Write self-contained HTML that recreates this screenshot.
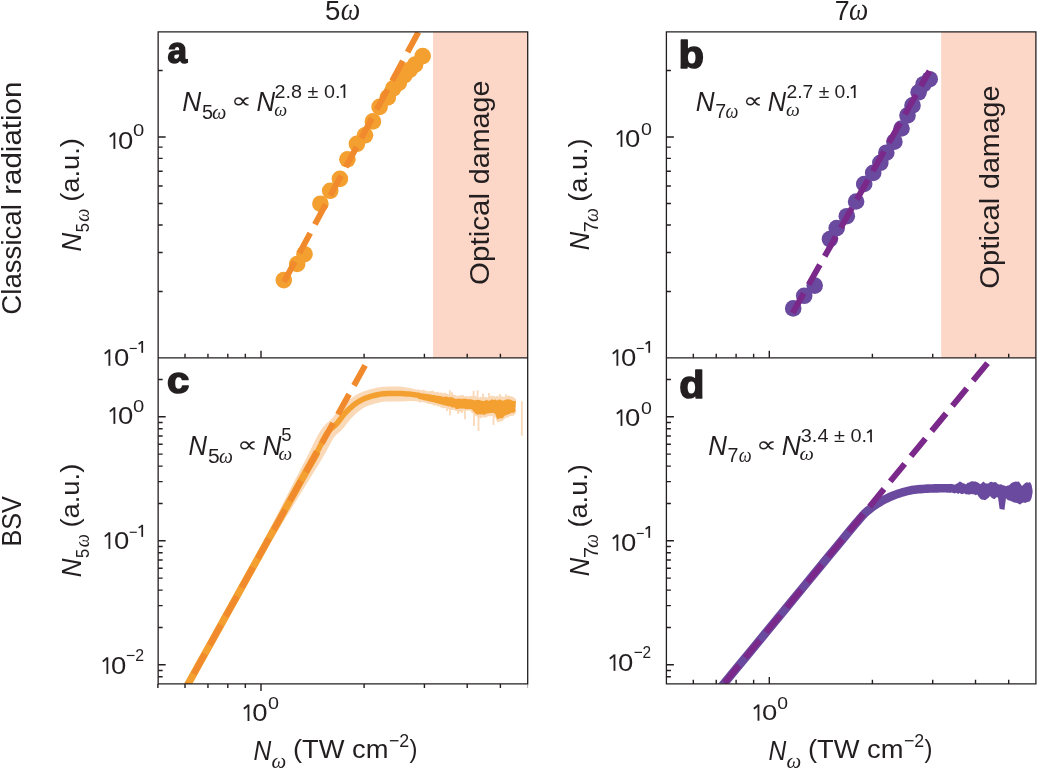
<!DOCTYPE html>
<html><head><meta charset="utf-8"><title>Figure</title>
<style>html,body{margin:0;padding:0;background:#fff;width:1037px;height:769px;overflow:hidden}svg{display:block;will-change:transform}body{font-family:"Liberation Sans",sans-serif}</style>
</head><body>
<svg width="1037" height="769" viewBox="0 0 1037 769">
<defs><clipPath id="ca"><rect x="158.15" y="31.85" width="369.6" height="326.0"/></clipPath>
<clipPath id="cb"><rect x="666.4" y="31.85" width="369.5" height="326.0"/></clipPath>
<clipPath id="cc"><rect x="158.15" y="357.85" width="369.6" height="326.0"/></clipPath>
<clipPath id="cd"><rect x="666.4" y="357.85" width="369.5" height="326.0"/></clipPath></defs>
<rect width="1037" height="769" fill="#fff"/>
<rect x="433.1" y="31.85" width="94.6" height="326.0" fill="#fcd6c6"/><rect x="941.2" y="31.85" width="94.7" height="326.0" fill="#fcd6c6"/><path d="M158.15,291.47h4.5M158.15,252.56h4.5M158.15,224.94h4.5M158.15,203.53h4.5M158.15,186.03h4.5M158.15,171.23h4.5M158.15,158.42h4.5M158.15,147.11h4.5M158.15,137.00h7.5M158.15,70.47h4.5M158.15,676.82h4.5M158.15,670.47h4.5M158.15,664.80h7.5M158.15,627.47h4.5M158.15,605.64h4.5M158.15,590.14h4.5M158.15,578.13h4.5M158.15,568.31h4.5M158.15,560.01h4.5M158.15,552.82h4.5M158.15,546.47h4.5M158.15,540.80h7.5M158.15,503.47h4.5M158.15,481.64h4.5M158.15,466.14h4.5M158.15,454.13h4.5M158.15,444.31h4.5M158.15,436.01h4.5M158.15,428.82h4.5M158.15,422.47h4.5M158.15,416.80h7.5M158.15,379.47h4.5M666.40,291.47h4.5M666.40,252.56h4.5M666.40,224.94h4.5M666.40,203.53h4.5M666.40,186.03h4.5M666.40,171.23h4.5M666.40,158.42h4.5M666.40,147.11h4.5M666.40,137.00h7.5M666.40,70.47h4.5M666.40,676.82h4.5M666.40,670.47h4.5M666.40,664.80h7.5M666.40,627.47h4.5M666.40,605.64h4.5M666.40,590.14h4.5M666.40,578.13h4.5M666.40,568.31h4.5M666.40,560.01h4.5M666.40,552.82h4.5M666.40,546.47h4.5M666.40,540.80h7.5M666.40,503.47h4.5M666.40,481.64h4.5M666.40,466.14h4.5M666.40,454.13h4.5M666.40,444.31h4.5M666.40,436.01h4.5M666.40,428.82h4.5M666.40,422.47h4.5M666.40,416.80h7.5M666.40,379.47h4.5M157.90,683.90v4.2M185.02,357.85v-4.2M185.02,683.90v4.2M207.95,357.85v-4.2M207.95,683.90v4.2M227.81,357.85v-4.2M227.81,683.90v4.2M245.33,357.85v-4.2M245.33,683.90v4.2M261.00,357.85v-7.0M261.00,683.90v7.0M364.10,357.85v-4.2M364.10,683.90v4.2M424.41,357.85v-4.2M424.41,683.90v4.2M467.21,357.85v-4.2M467.21,683.90v4.2M500.40,357.85v-4.2M500.40,683.90v4.2M693.32,357.85v-4.2M693.32,683.90v-4.2M716.25,357.85v-4.2M716.25,683.90v-4.2M736.11,357.85v-4.2M736.11,683.90v-4.2M753.63,357.85v-4.2M753.63,683.90v-4.2M769.30,357.85v-7.0M769.30,683.90v-7.0M872.40,357.85v-4.2M872.40,683.90v-4.2M932.71,357.85v-4.2M932.71,683.90v-4.2M975.51,357.85v-4.2M975.51,683.90v-4.2M1008.70,357.85v-4.2M1008.70,683.90v-4.2" stroke="#231f20" stroke-width="1.4" fill="none"/><path d="M527.6,683.9v4.2" stroke="#231f20" stroke-width="1" opacity="0.35" fill="none"/>
<g clip-path="url(#ca)"><g fill="#f3a030"><circle cx="283.8" cy="280.1" r="8.3"/><circle cx="297.2" cy="264.0" r="8.3"/><circle cx="304.5" cy="254.2" r="8.3"/><circle cx="320.4" cy="203.7" r="8.3"/><circle cx="330.2" cy="190.8" r="8.3"/><circle cx="339.9" cy="178.9" r="8.3"/><circle cx="347.4" cy="159.3" r="8.3"/><circle cx="356.9" cy="143.8" r="8.3"/><circle cx="365.0" cy="135.3" r="8.3"/><circle cx="372.9" cy="121.4" r="8.3"/><circle cx="379.6" cy="106.9" r="8.3"/><circle cx="387.8" cy="97.4" r="8.3"/><circle cx="393.3" cy="88.3" r="8.3"/><circle cx="398.8" cy="82.8" r="8.3"/><circle cx="404.2" cy="75.5" r="8.3"/><circle cx="409.7" cy="70.0" r="8.3"/><circle cx="415.1" cy="64.6" r="8.3"/><circle cx="422.7" cy="56.1" r="8.3"/></g><path d="M284.0,281.8L422.70,24.08" stroke="#f08a2c" stroke-width="6" stroke-dasharray="22.72 9.88" fill="none"/></g><g clip-path="url(#cb)"><g fill="#6a4a9e"><circle cx="793.2" cy="308.4" r="8.3"/><circle cx="804.2" cy="295.8" r="8.3"/><circle cx="814.7" cy="285.6" r="8.3"/><circle cx="829.9" cy="239.1" r="8.3"/><circle cx="836.7" cy="228.1" r="8.3"/><circle cx="846.8" cy="216.2" r="8.3"/><circle cx="856.1" cy="201.5" r="8.3"/><circle cx="864.2" cy="184.0" r="8.3"/><circle cx="873.2" cy="172.9" r="8.3"/><circle cx="880.3" cy="162.8" r="8.3"/><circle cx="886.3" cy="152.7" r="8.3"/><circle cx="894.4" cy="141.7" r="8.3"/><circle cx="901.5" cy="128.5" r="8.3"/><circle cx="907.5" cy="115.4" r="8.3"/><circle cx="912.5" cy="105.4" r="8.3"/><circle cx="918.6" cy="92.3" r="8.3"/><circle cx="923.6" cy="84.2" r="8.3"/><circle cx="929.7" cy="79.2" r="8.3"/></g><path d="M792.6,313.0L929.50,71.00" stroke="#7a298a" stroke-width="6" stroke-dasharray="22.72 9.88" fill="none"/></g><g clip-path="url(#cc)"><path d="M176.85,696.85 L184.70,682.73 L195.74,662.85 L208.73,639.48 L222.41,614.85 L235.53,591.23 L246.85,570.85 L256.75,553.04 L266.30,535.84 L274.79,519.37 L282.53,504.28 L289.36,490.98 L295.07,479.85 L299.37,471.53 L302.34,465.82 L304.39,461.91 L305.93,458.97 L307.38,456.19 L309.15,452.72 L311.16,448.62 L313.11,444.50 L315.10,440.46 L317.11,436.58 L319.12,432.93 L321.21,429.57 L323.38,426.68 L325.54,424.34 L327.52,422.54 L329.17,421.18 L330.43,420.09 L331.52,419.00 L332.65,417.63 L333.85,416.07 L335.10,414.38 L336.41,412.60 L337.84,410.75 L339.38,408.94 L340.96,407.25 L342.53,405.68 L344.10,404.19 L345.63,402.80 L347.12,401.51 L348.53,400.31 L349.88,399.21 L351.20,398.19 L352.51,397.24 L353.83,396.35 L355.18,395.50 L356.56,394.70 L357.93,393.95 L359.31,393.24 L360.77,392.55 L362.33,391.89 L364.02,391.25 L365.86,390.64 L367.88,390.01 L370.09,389.37 L372.46,388.74 L374.93,388.14 L377.45,387.61 L379.95,387.18 L382.36,386.87 L384.71,386.65 L387.02,386.51 L389.31,386.44 L391.63,386.41 L394.02,386.40 L396.57,386.42 L399.26,386.48 L402.01,386.75 L404.78,387.16 L407.51,387.61 L410.18,388.09 L412.81,388.63 L415.37,389.24 L417.83,389.87 L420.18,390.50 L422.46,390.93 L424.65,391.24 L426.79,391.50 L428.92,391.73 L431.04,391.94 L433.15,392.15 L435.27,392.38 L437.37,392.65 L439.41,392.94 L441.34,393.26 L443.21,393.58 L445.05,393.91 L446.90,394.24 L448.83,394.57 L450.87,394.91 L453.02,395.25 L455.21,395.61 L457.40,395.97 L459.56,396.32 L461.65,396.67 L463.64,397.03 L465.53,397.39 L467.33,397.73 L469.09,398.06 L470.86,398.37 L472.70,398.65 L474.66,398.90 L476.74,399.14 L478.89,399.36 L481.09,399.57 L483.30,399.80 L485.49,400.03 L487.63,400.31 L489.70,400.60 L491.70,400.89 L493.62,401.15 L495.49,401.36 L497.31,401.51 L499.22,401.59 L501.25,401.63 L503.31,401.63 L505.31,401.59 L507.19,401.55 L508.83,401.50 L510.21,401.45 L511.44,401.37 L512.54,401.27 L513.51,401.17 L514.36,401.08 L515.03,401.02 L516.06,411.97 L515.45,412.03 L514.63,412.12 L513.55,412.22 L512.26,412.33 L510.79,412.43 L509.20,412.50 L507.47,412.54 L505.53,412.59 L503.40,412.62 L501.17,412.63 L498.88,412.59 L496.62,412.49 L494.41,412.31 L492.26,412.06 L490.18,411.78 L488.15,411.49 L486.17,411.21 L484.20,410.96 L482.15,410.74 L480.00,410.52 L477.79,410.30 L475.56,410.07 L473.34,409.82 L471.16,409.54 L469.09,409.22 L467.14,408.89 L465.28,408.54 L463.46,408.19 L461.66,407.85 L459.78,407.51 L457.76,407.17 L455.63,406.82 L453.45,406.47 L451.25,406.11 L449.10,405.76 L447.01,405.42 L445.02,405.08 L443.12,404.74 L441.30,404.42 L439.52,404.11 L437.73,403.82 L435.89,403.55 L433.98,403.30 L432.01,403.09 L429.95,402.88 L427.80,402.67 L425.56,402.43 L423.22,402.15 L420.82,401.81 L418.40,401.48 L415.98,401.33 L413.59,401.20 L411.24,401.12 L408.92,401.11 L406.50,401.16 L403.95,401.26 L401.37,401.40 L398.81,401.47 L396.34,401.42 L393.98,401.40 L391.75,401.41 L389.66,401.43 L387.70,401.50 L385.84,401.61 L384.02,401.77 L382.20,402.01 L380.29,402.34 L378.25,402.77 L376.16,403.28 L374.10,403.83 L372.16,404.39 L370.45,404.92 L369.04,405.39 L367.89,405.82 L366.89,406.25 L365.95,406.69 L364.98,407.19 L363.93,407.77 L362.92,408.35 L362.01,408.93 L361.12,409.52 L360.20,410.19 L359.21,410.96 L358.11,411.86 L356.88,412.89 L355.60,414.01 L354.30,415.19 L353.00,416.42 L351.73,417.69 L350.57,418.93 L349.49,420.19 L348.38,421.63 L347.17,423.28 L345.84,425.08 L344.36,427.01 L342.62,429.08 L340.68,431.05 L338.85,432.63 L337.35,433.87 L336.11,434.99 L334.93,436.24 L333.62,437.99 L332.08,440.49 L330.34,443.64 L328.45,447.29 L326.38,451.25 L324.07,455.36 L321.64,459.51 L319.53,462.97 L317.83,465.71 L316.06,468.54 L313.73,472.25 L310.35,477.68 L305.45,485.64 L298.91,496.29 L291.10,509.04 L282.23,523.50 L272.59,539.34 L263.04,556.53 L253.15,574.35 L241.83,594.72 L228.70,618.35 L215.02,642.97 L202.04,666.35 L190.99,686.22 L183.15,700.35Z" fill="#fad9b8"/><path d="M418.0,388.4 L419.8,390.2 L421.6,390.2 L423.4,389.4 L425.2,390.6 L427.0,391.3 L428.8,391.3 L430.6,391.3 L432.4,390.4 L434.2,391.5 L436.0,392.5 L437.8,391.4 L439.6,392.9 L441.4,392.2 L443.2,393.6 L445.0,392.5 L446.8,393.7 L448.6,394.7 L450.4,394.6 L452.2,394.8 L454.0,394.4 L455.8,395.5 L457.6,396.0 L459.4,395.3 L461.2,395.3 L463.0,394.8 L464.8,396.6 L466.6,395.8 L468.4,396.4 L470.2,395.7 L472.0,396.3 L473.8,395.2 L475.6,396.0 L477.4,397.2 L479.2,397.6 L481.0,396.4 L482.8,397.9 L484.6,397.1 L486.4,397.3 L488.2,397.5 L490.0,396.0 L491.8,395.8 L493.6,395.7 L495.4,396.7 L497.2,395.7 L499.0,396.8 L500.8,396.1 L502.6,396.7 L504.4,396.6 L506.2,397.3 L508.0,395.2 L509.8,396.0 L511.6,396.3 L513.4,397.1 L515.2,398.5 L516.0,398.9 L516.0,412.7 L515.2,414.0 L513.4,415.8 L511.6,415.9 L509.8,416.1 L508.0,417.7 L506.2,417.5 L504.4,418.9 L502.6,421.1 L500.8,421.5 L499.0,422.0 L497.2,422.2 L495.4,417.5 L493.6,416.5 L491.8,415.7 L490.0,416.4 L488.2,416.0 L486.4,417.5 L484.6,417.4 L482.8,417.3 L481.0,418.0 L479.2,418.2 L477.4,416.7 L475.6,415.9 L473.8,413.7 L472.0,413.1 L470.2,410.6 L468.4,410.9 L466.6,410.2 L464.8,410.8 L463.0,411.0 L461.2,411.4 L459.4,412.5 L457.6,410.7 L455.8,411.2 L454.0,409.8 L452.2,410.3 L450.4,409.5 L448.6,409.6 L446.8,407.5 L445.0,408.1 L443.2,408.3 L441.4,407.9 L439.6,406.0 L437.8,406.7 L436.0,404.9 L434.2,405.9 L432.4,404.6 L430.6,404.1 L428.8,403.9 L427.0,403.5 L425.2,402.1 L423.4,402.2 L421.6,401.6 L419.8,402.7 L418.0,401.6Z" fill="#fad9b8"/><path d="M450,390.2V398M452,392.2V398M473.5,390.7V400M477.5,390.2V400M483,393.5V400M489,393.0V400M500,394V400M506,394.3V400M450,405V415.2M458,407V414M465,407V419.3M474,409V426M478.5,412V431M493.5,412V425M447,404V411M462,407V413M521.8,401.3V435.7" stroke="#fad9b8" stroke-width="1.8" fill="none"/><path d="M180.00,698.60 L187.85,684.48 L198.89,664.60 L211.88,641.23 L225.56,616.60 L238.68,592.97 L250.00,572.60 L259.90,554.78 L269.44,537.59 L278.44,521.39 L286.67,506.58 L293.92,493.52 L300.00,482.60 L304.56,474.44 L307.70,468.85 L309.88,465.03 L311.52,462.14 L313.08,459.37 L315.00,455.90 L317.20,451.77 L319.31,447.65 L321.33,443.64 L323.28,439.87 L325.17,436.45 L327.00,433.50 L328.77,431.14 L330.47,429.31 L332.11,427.83 L333.69,426.52 L335.21,425.20 L336.70,423.70 L338.12,422.01 L339.45,420.27 L340.73,418.53 L342.00,416.81 L343.28,415.16 L344.60,413.60 L345.99,412.12 L347.41,410.69 L348.86,409.33 L350.29,408.03 L351.68,406.82 L353.00,405.70 L354.24,404.69 L355.40,403.79 L356.52,402.97 L357.64,402.22 L358.79,401.50 L360.00,400.80 L361.22,400.13 L362.41,399.52 L363.62,398.94 L364.93,398.39 L366.37,397.85 L368.00,397.30 L369.88,396.72 L371.96,396.12 L374.19,395.52 L376.48,394.97 L378.78,394.49 L381.00,394.10 L383.14,393.82 L385.24,393.63 L387.34,393.51 L389.47,393.44 L391.68,393.41 L394.00,393.40 L396.46,393.42 L399.05,393.48 L401.71,393.57 L404.39,393.71 L407.04,393.89 L409.60,394.10 L412.09,394.38 L414.55,394.72 L416.98,395.11 L419.37,395.50" stroke="#f3a030" stroke-width="5.5" fill="none" stroke-linejoin="round"/><path d="M180.00,698.60 L187.85,684.48 L198.89,664.60 L211.88,641.23 L225.56,616.60 L238.68,592.97 L250.00,572.60 L259.90,554.78 L269.44,537.59 L278.44,521.39 L286.67,506.58 L293.92,493.52 L300.00,482.60 L304.56,474.44 L307.70,468.85 L309.88,465.03 L311.52,462.14 L313.08,459.37 L315.00,455.90 L317.20,451.77" stroke="#f3a030" stroke-width="7.2" fill="none" stroke-linejoin="round"/><path d="M418.0,392.6 L419.8,392.9 L421.6,393.2 L423.4,393.5 L425.2,393.7 L427.0,394.0 L428.8,394.3 L430.6,394.6 L432.4,394.9 L434.2,395.1 L436.0,395.4 L437.8,395.7 L439.6,395.9 L441.4,396.2 L443.2,397.0 L445.0,396.8 L446.8,396.6 L448.6,397.4 L450.4,397.1 L452.2,397.3 L454.0,398.3 L455.8,398.9 L457.6,398.8 L459.4,398.5 L461.2,399.1 L463.0,398.7 L464.8,398.6 L466.6,399.1 L468.4,399.3 L470.2,399.3 L472.0,399.4 L473.8,400.3 L475.6,400.3 L477.4,399.8 L479.2,399.9 L481.0,400.6 L482.8,400.9 L484.6,401.1 L486.4,399.8 L488.2,400.7 L490.0,400.5 L491.8,399.2 L493.6,400.1 L495.4,399.4 L497.2,400.5 L499.0,399.6 L500.8,399.8 L502.6,400.8 L504.4,400.3 L506.2,399.6 L508.0,399.3 L509.8,399.5 L511.6,399.9 L513.4,401.1 L515.2,400.9 L516.0,401.2 L516.0,401.5 L515.0,410.0 L516.0,409.8 L515.2,411.6 L513.4,413.1 L511.6,412.8 L509.8,413.7 L508.0,414.6 L506.2,415.1 L504.4,416.1 L502.6,418.3 L500.8,418.2 L499.0,418.5 L497.2,419.4 L495.4,414.3 L493.6,412.8 L491.8,413.0 L490.0,412.9 L488.2,413.4 L486.4,413.5 L484.6,415.0 L482.8,414.3 L481.0,414.4 L479.2,414.2 L477.4,414.7 L475.6,413.6 L473.8,411.7 L472.0,409.5 L470.2,409.1 L468.4,408.9 L466.6,409.2 L464.8,408.7 L463.0,408.6 L461.2,408.6 L459.4,408.5 L457.6,409.0 L455.8,409.0 L454.0,407.0 L452.2,407.7 L450.4,406.3 L448.6,406.6 L446.8,405.8 L445.0,405.5 L443.2,404.9 L441.4,404.6 L439.6,404.1 L437.8,403.6 L436.0,403.1 L434.2,402.6 L432.4,402.1 L430.6,401.7 L428.8,401.2 L427.0,400.8 L425.2,400.4 L423.4,400.0 L421.6,399.6 L419.8,399.2 L418.0,398.8Z" fill="#f3a030"/><path d="M188.0,684.2L373.67,350" stroke="#f08a2c" stroke-width="6" stroke-dasharray="23 10" stroke-dashoffset="21.3" fill="none"/></g><g clip-path="url(#cd)"><path d="M700.00,712.76 L708.88,701.96 L721.30,686.86 L735.94,669.06 L751.48,650.16 L766.61,631.76 L780.00,615.48 L792.31,600.50 L804.74,585.38 L816.75,570.77 L827.81,557.31 L837.41,545.65 L845.00,536.44 L850.10,530.26 L853.04,526.71 L854.51,524.96 L855.20,524.17 L855.80,523.52 L857.00,522.15 L858.62,520.25 L860.07,518.52 L861.43,516.92 L862.78,515.40 L864.21,513.91 L865.80,512.40 L867.57,510.86 L869.46,509.33 L871.43,507.83 L873.44,506.38 L875.44,505.00 L877.40,503.70 L879.32,502.49 L881.24,501.35 L883.15,500.28 L885.06,499.27 L886.98,498.31 L888.90,497.40 L890.83,496.54 L892.76,495.74 L894.69,494.99 L896.63,494.29 L898.57,493.62 L900.50,493.00 L902.42,492.41 L904.32,491.86 L906.22,491.36 L908.14,490.89 L910.09,490.47 L912.10,490.10 L914.15,489.78 L916.23,489.52 L918.34,489.30 L920.50,489.11 L922.71,488.95 L925.00,488.80 L927.38,488.66 L929.84,488.55 L932.37,488.46 L934.92,488.39 L937.48,488.33 L940.00,488.30 L942.67,488.30 L945.56,488.32 L948.44,488.37 L951.11,488.42" stroke="#6a4a9e" stroke-width="8.6" fill="none" stroke-linejoin="round"/><path d="M950.0,483.7 L951.6,484.1 L953.2,484.3 L954.8,484.7 L956.4,483.7 L958.0,483.0 L959.6,481.6 L961.2,481.9 L962.8,483.2 L964.4,483.5 L966.0,484.5 L967.6,482.7 L969.2,482.4 L970.8,481.4 L972.4,481.3 L974.0,481.5 L975.6,481.4 L977.2,482.3 L978.8,483.1 L980.4,484.2 L982.0,482.7 L983.6,481.5 L985.2,483.3 L986.8,483.6 L988.4,483.5 L990.0,482.1 L991.6,481.7 L993.2,482.5 L994.8,482.0 L996.4,482.6 L998.0,484.2 L999.6,484.6 L1001.2,484.2 L1002.8,485.3 L1004.4,485.4 L1006.0,486.3 L1007.6,485.6 L1009.2,485.2 L1010.8,483.6 L1012.4,482.6 L1014.0,482.1 L1015.6,481.5 L1017.2,481.7 L1018.8,481.6 L1020.4,483.7 L1022.0,486.0 L1023.6,484.4 L1025.2,483.1 L1026.8,482.2 L1028.4,482.7 L1030.0,482.1 L1031.6,485.0 L1032.6,490.4 L1032.6,492.4 L1031.6,498.0 L1030.0,501.3 L1028.4,501.8 L1026.8,502.2 L1025.2,503.0 L1023.6,502.4 L1022.0,503.0 L1020.4,504.5 L1018.8,504.0 L1017.2,503.1 L1015.6,502.8 L1014.0,502.4 L1012.4,501.8 L1010.8,501.1 L1009.2,500.6 L1007.6,500.0 L1006.0,498.3 L1004.4,510.0 L1002.8,509.6 L1001.2,509.3 L999.6,509.0 L998.0,497.5 L996.4,497.2 L994.8,499.0 L993.2,498.8 L991.6,497.8 L990.0,496.0 L988.4,498.0 L986.8,499.0 L985.2,500.2 L983.6,499.8 L982.0,499.8 L980.4,498.8 L978.8,497.1 L977.2,494.6 L975.6,495.2 L974.0,494.3 L972.4,494.2 L970.8,494.1 L969.2,494.7 L967.6,494.2 L966.0,494.5 L964.4,493.3 L962.8,494.1 L961.2,493.9 L959.6,493.0 L958.0,494.0 L956.4,492.8 L954.8,493.5 L953.2,493.0 L951.6,492.5 L950.0,492.5Z" fill="#6a4a9e"/><path d="M710.49,700L998.32,350" stroke="#7a298a" stroke-width="6" stroke-dasharray="22.72 9.88" stroke-dashoffset="10.36" fill="none"/></g>
<path d="M158.15,31.85H527.7V683.9H158.15Z M158.15,357.85H527.7 M666.4,31.85H1035.9V683.9H666.4Z M666.4,357.85H1035.9" stroke="#231f20" stroke-width="1.3" fill="none"/>
<g fill="#231f20">
<text transform="translate(324.99,19.92) scale(1.0032,1)" font-family="Liberation Sans" font-size="27.57" >5</text>
<text transform="translate(340.87,19.89) scale(0.8838,1)" font-family="Liberation Serif" font-style="italic" font-size="31.25" >ω</text>
<text transform="translate(834.76,20.28) scale(0.9570,1)" font-family="Liberation Sans" font-size="27.94" >7</text>
<text transform="translate(848.88,19.99) scale(0.8679,1)" font-family="Liberation Serif" font-style="italic" font-size="31.46" >ω</text>
<text transform="translate(21.12,314.68) rotate(-90) scale(1.0024,1)" font-family="Liberation Sans" font-size="27.57" >Classical</text>
<text transform="translate(21.12,194.76) rotate(-90) scale(1.0696,1)" font-family="Liberation Sans" font-size="27.57" >radiation</text>
<text transform="translate(20.73,546.62) rotate(-90) scale(0.9390,1)" font-family="Liberation Sans" font-size="26.90" >BSV</text>
<text transform="translate(167.39,62.58) scale(0.9513,1)" font-family="Liberation Sans" font-weight="bold" font-size="37.09" stroke="#231f20" stroke-width="1.5" stroke-linejoin="round">a</text>
<text transform="translate(678.62,67.85) scale(1.0898,1)" font-family="Liberation Sans" font-weight="bold" font-size="38.36" stroke="#231f20" stroke-width="1.5" stroke-linejoin="round">b</text>
<text transform="translate(166.94,393.49) scale(1.1056,1)" font-family="Liberation Sans" font-weight="bold" font-size="36.36" stroke="#231f20" stroke-width="1.5" stroke-linejoin="round">c</text>
<text transform="translate(679.20,397.65) scale(1.0780,1)" font-family="Liberation Sans" font-weight="bold" font-size="38.22" stroke="#231f20" stroke-width="1.5" stroke-linejoin="round">d</text>
<text transform="translate(80.90,251.57) rotate(-90) scale(0.9368,1)" font-family="Liberation Sans" font-style="italic" font-size="27.54" >N</text>
<text transform="translate(89.11,232.26) rotate(-90) scale(0.8558,1)" font-family="Liberation Sans" font-size="19.14" >5</text>
<text transform="translate(89.08,221.66) rotate(-90) scale(0.8490,1)" font-family="Liberation Serif" font-style="italic" font-size="21.88" >ω</text>
<text transform="translate(79.24,201.84) rotate(-90) scale(1.0317,1)" font-family="Liberation Sans" font-size="26.49" >(a.u.)</text>
<text transform="translate(80.90,577.27) rotate(-90) scale(0.9368,1)" font-family="Liberation Sans" font-style="italic" font-size="27.54" >N</text>
<text transform="translate(89.11,557.96) rotate(-90) scale(0.8558,1)" font-family="Liberation Sans" font-size="19.14" >5</text>
<text transform="translate(89.08,547.36) rotate(-90) scale(0.8490,1)" font-family="Liberation Serif" font-style="italic" font-size="21.88" >ω</text>
<text transform="translate(79.24,527.54) rotate(-90) scale(1.0317,1)" font-family="Liberation Sans" font-size="26.49" >(a.u.)</text>
<text transform="translate(588.90,250.37) rotate(-90) scale(0.9215,1)" font-family="Liberation Sans" font-style="italic" font-size="27.68" >N</text>
<text transform="translate(598.10,232.28) rotate(-90) scale(1.0003,1)" font-family="Liberation Sans" font-size="19.56" >7</text>
<text transform="translate(598.09,222.10) rotate(-90) scale(0.9337,1)" font-family="Liberation Serif" font-style="italic" font-size="21.25" >ω</text>
<text transform="translate(587.21,201.73) rotate(-90) scale(1.0208,1)" font-family="Liberation Sans" font-size="26.60" >(a.u.)</text>
<text transform="translate(588.90,576.17) rotate(-90) scale(0.9215,1)" font-family="Liberation Sans" font-style="italic" font-size="27.68" >N</text>
<text transform="translate(598.10,558.08) rotate(-90) scale(1.0003,1)" font-family="Liberation Sans" font-size="19.56" >7</text>
<text transform="translate(598.09,547.90) rotate(-90) scale(0.9337,1)" font-family="Liberation Serif" font-style="italic" font-size="21.25" >ω</text>
<text transform="translate(587.21,527.53) rotate(-90) scale(1.0208,1)" font-family="Liberation Sans" font-size="26.60" >(a.u.)</text>
<text transform="translate(118.00,148.67) scale(1.1905,1)" font-family="Liberation Sans" font-size="23.10" >0</text>
<text transform="translate(133.09,135.73) scale(1.2057,1)" font-family="Liberation Sans" font-size="16.76" >0</text>
<text transform="translate(114.10,365.57) scale(1.1905,1)" font-family="Liberation Sans" font-size="23.10" >0</text>
<text transform="translate(625.00,146.67) scale(1.1762,1)" font-family="Liberation Sans" font-size="23.38" >0</text>
<text transform="translate(641.12,134.73) scale(1.1783,1)" font-family="Liberation Sans" font-size="16.62" >0</text>
<text transform="translate(621.10,365.57) scale(1.1905,1)" font-family="Liberation Sans" font-size="23.10" >0</text>
<text transform="translate(118.00,423.67) scale(1.1762,1)" font-family="Liberation Sans" font-size="23.38" >0</text>
<text transform="translate(133.09,411.73) scale(1.2159,1)" font-family="Liberation Sans" font-size="16.62" >0</text>
<text transform="translate(114.10,548.67) scale(1.1762,1)" font-family="Liberation Sans" font-size="23.38" >0</text>
<text transform="translate(111.10,673.67) scale(1.1762,1)" font-family="Liberation Sans" font-size="23.38" >0</text>
<text transform="translate(126.01,660.70) scale(0.9574,1)" font-family="Liberation Sans" font-size="16.57" >−2</text>
<text transform="translate(625.00,425.67) scale(1.1905,1)" font-family="Liberation Sans" font-size="23.10" >0</text>
<text transform="translate(641.12,413.64) scale(1.1884,1)" font-family="Liberation Sans" font-size="16.48" >0</text>
<text transform="translate(621.10,550.67) scale(1.1905,1)" font-family="Liberation Sans" font-size="23.10" >0</text>
<text transform="translate(618.10,670.57) scale(1.1905,1)" font-family="Liberation Sans" font-size="23.10" >0</text>
<text transform="translate(633.63,657.80) scale(0.9126,1)" font-family="Liberation Sans" font-size="16.86" >−2</text>
<text transform="translate(252.20,720.77) scale(1.1833,1)" font-family="Liberation Sans" font-size="23.24" >0</text>
<text transform="translate(268.11,708.63) scale(1.1909,1)" font-family="Liberation Sans" font-size="16.62" >0</text>
<text transform="translate(762.00,720.47) scale(1.2052,1)" font-family="Liberation Sans" font-size="22.82" >0</text>
<text transform="translate(777.23,708.63) scale(1.1560,1)" font-family="Liberation Sans" font-size="16.76" >0</text>
<text transform="translate(253.56,759.80) scale(0.9091,1)" font-family="Liberation Sans" font-style="italic" font-size="27.10" >N</text>
<text transform="translate(271.48,767.79) scale(0.9981,1)" font-family="Liberation Serif" font-style="italic" font-size="20.83" >ω</text>
<text transform="translate(292.96,758.12) scale(1.0660,1)" font-family="Liberation Sans" font-size="25.64" >(TW cm</text>
<text transform="translate(388.91,746.60) scale(0.9505,1)" font-family="Liberation Sans" font-size="18.71" >−2</text>
<text transform="translate(409.56,758.08) scale(0.9075,1)" font-family="Liberation Sans" font-size="26.28" >)</text>
<text transform="translate(768.56,759.80) scale(0.9091,1)" font-family="Liberation Sans" font-style="italic" font-size="27.10" >N</text>
<text transform="translate(786.48,767.79) scale(0.9981,1)" font-family="Liberation Serif" font-style="italic" font-size="20.83" >ω</text>
<text transform="translate(807.96,758.12) scale(1.0660,1)" font-family="Liberation Sans" font-size="25.64" >(TW cm</text>
<text transform="translate(903.91,746.60) scale(0.9505,1)" font-family="Liberation Sans" font-size="18.71" >−2</text>
<text transform="translate(924.56,758.08) scale(0.9075,1)" font-family="Liberation Sans" font-size="26.28" >)</text>
<text transform="translate(182.21,110.90) scale(0.9378,1)" font-family="Liberation Sans" font-style="italic" font-size="27.97" >N</text>
<text transform="translate(201.91,118.70) scale(1.0037,1)" font-family="Liberation Sans" font-size="19.71" >5</text>
<text transform="translate(212.09,118.69) scale(0.9468,1)" font-family="Liberation Serif" font-style="italic" font-size="21.46" >ω</text>
<text transform="translate(230.67,107.96) scale(1.3144,1)" font-family="Liberation Sans" font-size="22.37" >∝</text>
<text transform="translate(256.53,110.70) scale(0.9418,1)" font-family="Liberation Sans" font-style="italic" font-size="27.39" >N</text>
<text transform="translate(274.15,115.51) scale(0.9524,1)" font-family="Liberation Serif" font-style="italic" font-size="19.17" >ω</text>
<text transform="translate(274.61,97.71) scale(1.0327,1)" font-family="Liberation Sans" font-size="19.15" >2.8 ± 0.</text>
<text transform="translate(695.82,110.80) scale(0.9524,1)" font-family="Liberation Sans" font-style="italic" font-size="27.39" >N</text>
<text transform="translate(715.22,118.40) scale(0.9783,1)" font-family="Liberation Sans" font-size="20.00" >7</text>
<text transform="translate(725.45,118.39) scale(0.8507,1)" font-family="Liberation Serif" font-style="italic" font-size="21.46" >ω</text>
<text transform="translate(743.48,107.96) scale(1.2696,1)" font-family="Liberation Sans" font-size="22.37" >∝</text>
<text transform="translate(767.64,110.80) scale(0.9259,1)" font-family="Liberation Sans" font-style="italic" font-size="27.39" >N</text>
<text transform="translate(786.11,115.51) scale(1.0186,1)" font-family="Liberation Serif" font-style="italic" font-size="19.17" >ω</text>
<text transform="translate(786.54,97.82) scale(1.0529,1)" font-family="Liberation Sans" font-size="18.31" >2.7 ± 0.</text>
<text transform="translate(188.43,454.70) scale(0.9267,1)" font-family="Liberation Sans" font-style="italic" font-size="27.68" >N</text>
<text transform="translate(208.06,462.91) scale(1.0842,1)" font-family="Liberation Sans" font-size="19.43" >5</text>
<text transform="translate(219.01,462.88) scale(0.8998,1)" font-family="Liberation Serif" font-style="italic" font-size="21.88" >ω</text>
<text transform="translate(236.64,452.16) scale(1.3233,1)" font-family="Liberation Sans" font-size="22.37" >∝</text>
<text transform="translate(262.82,454.70) scale(0.9372,1)" font-family="Liberation Sans" font-style="italic" font-size="27.68" >N</text>
<text transform="translate(278.62,460.31) scale(1.0104,1)" font-family="Liberation Serif" font-style="italic" font-size="19.17" >ω</text>
<text transform="translate(281.36,441.22) scale(1.0203,1)" font-family="Liberation Sans" font-size="18.14" >5</text>
<text transform="translate(708.22,454.70) scale(0.9572,1)" font-family="Liberation Sans" font-style="italic" font-size="27.10" >N</text>
<text transform="translate(727.62,462.20) scale(0.9783,1)" font-family="Liberation Sans" font-size="20.00" >7</text>
<text transform="translate(738.65,462.29) scale(0.8507,1)" font-family="Liberation Serif" font-style="italic" font-size="21.46" >ω</text>
<text transform="translate(755.74,452.16) scale(1.3233,1)" font-family="Liberation Sans" font-size="22.37" >∝</text>
<text transform="translate(781.71,454.70) scale(0.9733,1)" font-family="Liberation Sans" font-style="italic" font-size="27.10" >N</text>
<text transform="translate(799.39,459.51) scale(1.0600,1)" font-family="Liberation Serif" font-style="italic" font-size="19.17" >ω</text>
<text transform="translate(800.80,442.02) scale(1.1129,1)" font-family="Liberation Sans" font-size="17.89" >3.4 ± 0.</text>
<text transform="translate(488.98,284.88) rotate(-90) scale(1.0844,1)" font-family="Liberation Sans" font-size="27.23" >Optical</text>
<text transform="translate(488.98,184.25) rotate(-90) scale(1.0548,1)" font-family="Liberation Sans" font-size="27.23" >damage</text>
<text transform="translate(999.28,288.66) rotate(-90) scale(1.0722,1)" font-family="Liberation Sans" font-size="27.23" >Optical</text>
<text transform="translate(999.28,188.94) rotate(-90) scale(1.0506,1)" font-family="Liberation Sans" font-size="27.23" >damage</text>
<path d="M113.45,132.50H115.30V148.90H113.45Z"/><path d="M114.15,133.25L109.75,136.80" stroke="#231f20" stroke-width="1.85" fill="none"/><path d="M108.45,349.40H110.30V365.80H108.45Z"/><path d="M109.15,350.15L104.75,353.70" stroke="#231f20" stroke-width="1.85" fill="none"/><rect x="129.70" y="347.90" width="7.1" height="1.15"/><path d="M141.35,341.00H143.10V352.80H141.35Z"/><path d="M142.05,341.75L138.65,344.00" stroke="#231f20" stroke-width="1.5" fill="none"/><path d="M620.55,130.30H622.40V146.90H620.55Z"/><path d="M621.25,131.05L616.85,134.60" stroke="#231f20" stroke-width="1.85" fill="none"/><path d="M616.45,349.40H618.30V365.80H616.45Z"/><path d="M617.15,350.15L612.75,353.70" stroke="#231f20" stroke-width="1.85" fill="none"/><rect x="636.70" y="347.90" width="7.1" height="1.15"/><path d="M648.35,341.00H650.10V352.80H648.35Z"/><path d="M649.05,341.75L645.65,344.00" stroke="#231f20" stroke-width="1.5" fill="none"/><path d="M113.45,407.30H115.30V423.90H113.45Z"/><path d="M114.15,408.05L109.75,411.60" stroke="#231f20" stroke-width="1.85" fill="none"/><path d="M108.45,532.30H110.30V548.90H108.45Z"/><path d="M109.15,533.05L104.75,536.60" stroke="#231f20" stroke-width="1.85" fill="none"/><rect x="129.70" y="531.70" width="7.1" height="1.15"/><path d="M141.35,524.80H143.10V536.90H141.35Z"/><path d="M142.05,525.55L138.65,527.80" stroke="#231f20" stroke-width="1.5" fill="none"/><path d="M106.45,657.30H108.30V673.90H106.45Z"/><path d="M107.15,658.05L102.75,661.60" stroke="#231f20" stroke-width="1.85" fill="none"/><path d="M620.55,409.50H622.40V425.90H620.55Z"/><path d="M621.25,410.25L616.85,413.80" stroke="#231f20" stroke-width="1.85" fill="none"/><path d="M616.45,534.50H618.30V550.90H616.45Z"/><path d="M617.15,535.25L612.75,538.80" stroke="#231f20" stroke-width="1.85" fill="none"/><rect x="636.70" y="532.90" width="7.1" height="1.15"/><path d="M648.35,526.00H650.10V537.80H648.35Z"/><path d="M649.05,526.75L645.65,529.00" stroke="#231f20" stroke-width="1.5" fill="none"/><path d="M613.55,654.40H615.40V670.80H613.55Z"/><path d="M614.25,655.15L609.85,658.70" stroke="#231f20" stroke-width="1.85" fill="none"/><path d="M247.55,704.50H249.40V721.00H247.55Z"/><path d="M248.25,705.25L243.85,708.80" stroke="#231f20" stroke-width="1.85" fill="none"/><path d="M757.55,704.50H759.40V720.70H757.55Z"/><path d="M758.25,705.25L753.85,708.80" stroke="#231f20" stroke-width="1.85" fill="none"/><path d="M343.55,84.30H345.30V97.90H343.55Z"/><path d="M344.25,85.05L340.55,87.60" stroke="#231f20" stroke-width="1.6" fill="none"/><path d="M853.85,85.00H855.60V98.00H853.85Z"/><path d="M854.55,85.75L850.85,88.30" stroke="#231f20" stroke-width="1.6" fill="none"/><path d="M870.15,429.50H871.90V442.20H870.15Z"/><path d="M870.85,430.25L867.15,432.80" stroke="#231f20" stroke-width="1.6" fill="none"/>
</g>
</svg>
</body></html>
